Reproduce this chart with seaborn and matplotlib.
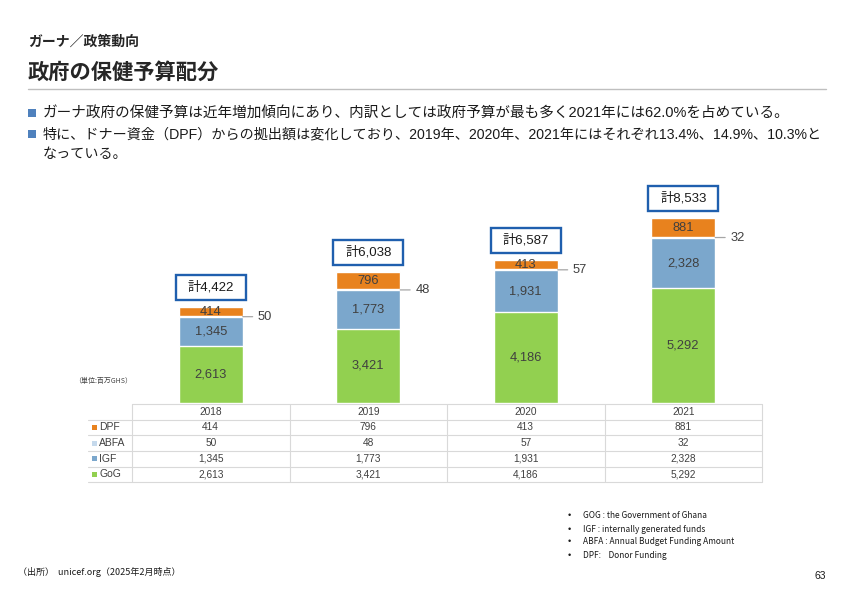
import matplotlib
matplotlib.use("Agg")
from matplotlib import pyplot as plt
from matplotlib import transforms
from matplotlib.patches import Rectangle
from matplotlib.lines import Line2D
import pandas as pd
import seaborn as sns

# data (million GHS)
years = ["2018", "2019", "2020", "2021"]
gog = [2613, 3421, 4186, 5292]
igf = [1345, 1773, 1931, 2328]
abfa = [50, 48, 57, 32]
dpf = [414, 796, 413, 881]

series = ["GoG", "IGF", "ABFA", "DPF"]
colors = {"GoG": "#92D050", "IGF": "#7BA7CC", "ABFA": "#C5D9EC", "DPF": "#E8821E"}

df = pd.DataFrame({"year": years, "GoG": gog, "IGF": igf, "ABFA": abfa, "DPF": dpf})
cum = df[series].cumsum(axis=1)
totals = cum["DPF"].tolist()

sns.set_style("white")
plt.rcParams["font.family"] = ["Liberation Sans", "Noto Sans CJK JP"]
JP = ["Noto Sans CJK JP", "Liberation Sans"]

W, H = 842, 595
fig = plt.figure(figsize=(W / 100, H / 100), dpi=100)


def fx(x):
    return x / W


def fy(y):
    return 1 - y / H


def ftext(x, y, s, **kw):
    kw.setdefault("va", "center")
    fig.text(fx(x), fy(y), s, **kw)


def fline(x0, x1, y0, y1, color="#D9D9D9", lw=0.8):
    fig.add_artist(Line2D([fx(x0), fx(x1)], [fy(y0), fy(y1)], color=color, lw=lw,
                          transform=fig.transFigure))


def frect(x, y, w, h, fc, ec="none", lw=0):
    fig.add_artist(Rectangle((fx(x), fy(y + h)), w / W, h / H, fc=fc, ec=ec, lw=lw,
                             transform=fig.transFigure))


# ---- header ----
ftext(28, 42, "ガーナ／政策動向", fontsize=10, fontweight="bold", family=JP)
ftext(28, 72, "政府の保健予算配分", fontsize=15.3, fontweight="bold", family=JP)
fline(28, 826, 89, 89, color="#BFBFBF", lw=1)

bullet_lines = [
    (113, True, 10.5, "ガーナ政府の保健予算は近年増加傾向にあり、内訳としては政府予算が最も多く2021年には62.0%を占めている。"),
    (134, True, 10.15, "特に、ドナー資金（DPF）からの拠出額は変化しており、2019年、2020年、2021年にはそれぞれ13.4%、14.9%、10.3%と"),
    (154, False, 10.15, "なっている。"),
]
for y, sq, size, s in bullet_lines:
    if sq:
        frect(28, y - 4, 8, 8, "#4F81BD")
    ftext(43, y, s, fontsize=size, color="#1a1a1a")

# ---- chart ----
ax = fig.add_axes([fx(132), fy(403), fx(762) - fx(132), fy(180) - fy(403)])
for name in reversed(series):
    sns.barplot(x=years, y=cum[name].values, color=colors[name], width=0.406,
                saturation=1, errorbar=None, ax=ax)
ax.set_xlim(-0.5, 3.5)
ax.set_ylim(0, 10290)
ax.axis("off")

lab = dict(ha="center", va="center", fontsize=9.3, color="#404040")
for i in range(len(years)):
    ax.text(i, gog[i] / 2, f"{gog[i]:,}", **lab)
    ax.text(i, gog[i] + igf[i] / 2, f"{igf[i]:,}", **lab)
    ax.text(i, totals[i] - dpf[i] / 2, f"{dpf[i]:,}", **lab)
    ay = gog[i] + igf[i] + abfa[i] / 2
    ax.annotate(f"{abfa[i]}", xy=(i + 0.203, ay), xytext=(11, 0), textcoords="offset points",
                ha="left", va="center", fontsize=9.3, color="#404040",
                arrowprops=dict(arrowstyle="-", color="#A6A6A6", lw=0.9,
                                shrinkA=1.5, shrinkB=0, relpos=(0, 0.5)))

# total boxes
fig.canvas.draw()
for i in range(len(years)):
    px, py = ax.transData.transform((i, totals[i]))
    cx, cy = px, H - py - 20  # pixel coords from top
    frect(cx - 35, cy - 12.5, 70, 25, "white", ec="#1F5FAE", lw=1.7)
    ftext(cx, cy, f"計{totals[i]:,}", ha="center", fontsize=9.5, color="#1a1a1a")

# ---- table ----
row_y = [404, 419.5, 435, 451, 466.5, 482]
fline(132, 762, row_y[0], row_y[0])
for y in row_y[1:]:
    fline(88, 762, y, y)
col_x = [132, 289.5, 447, 604.5, 762]
for x in col_x:
    fline(x, x, row_y[0], row_y[-1])

blend = transforms.blended_transform_factory(ax.transData, fig.transFigure)
tab = dict(ha="center", va="center", fontsize=7.3, color="#404040", transform=blend)
for i, yr in enumerate(years):
    fig.text(i, fy((row_y[0] + row_y[1]) / 2), yr, **tab)

table_rows = [("DPF", dpf), ("ABFA", abfa), ("IGF", igf), ("GoG", gog)]
for r, (name, vals) in enumerate(table_rows):
    yc = (row_y[r + 1] + row_y[r + 2]) / 2
    frect(92, yc - 2.5, 5, 5, colors[name])
    ftext(99, yc, name, fontsize=7.5, color="#404040")
    for i, v in enumerate(vals):
        fig.text(i, fy(yc), f"{v:,}", **tab)

ftext(74, 381, "（単位:百万GHS）", fontsize=5, color="#404040", family=JP)

# ---- footnotes ----
notes = [
    "GOG : the Government of Ghana",
    "IGF : internally generated funds",
    "ABFA : Annual Budget Funding Amount",
    "DPF:    Donor Funding",
]
for k, s in enumerate(notes):
    y = 516 + 13 * k
    ftext(568, y, "•", fontsize=6.5, color="#1a1a1a")
    ftext(583, y, s, fontsize=6, color="#1a1a1a", family=JP)

ftext(18, 572, "（出所）  unicef.org（2025年2月時点）", fontsize=6.5, color="#1a1a1a", family=JP)
ftext(826, 576, "63", ha="right", fontsize=7.5, color="#1a1a1a")

fig.savefig("out.png", dpi=100)
